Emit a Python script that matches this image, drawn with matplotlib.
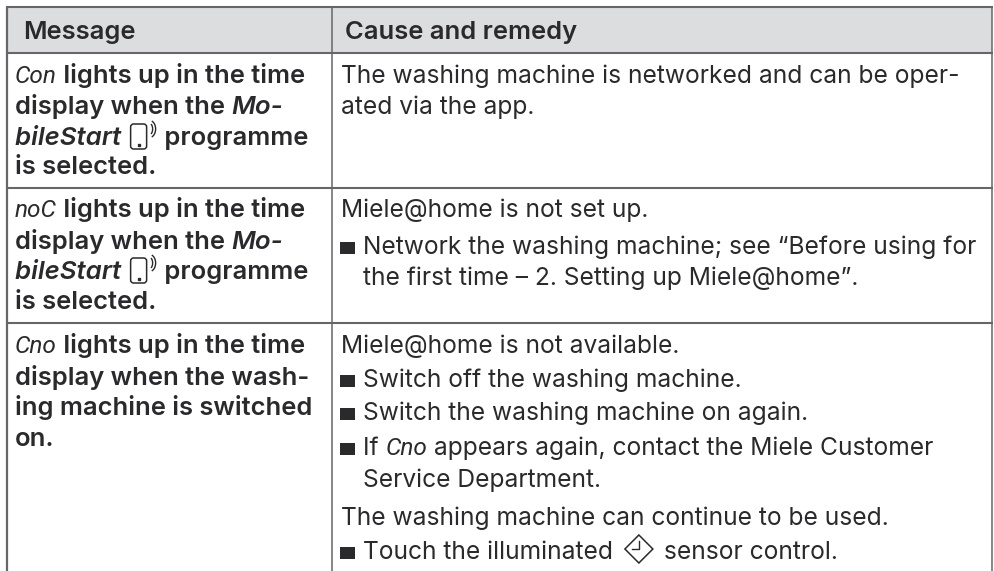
import matplotlib
matplotlib.use('Agg')
import matplotlib.pyplot as plt
from matplotlib.patches import Rectangle, FancyBboxPatch, Arc, Polygon

W, H = 995, 571
INK = '#2a2a2c'
LINE = '#666668'
HEAD = '#dcddde'

headers = ['Message', 'Cause and remedy']

# B bold, BI bold italic, N normal, S seven segment display, P phone icon, K key icon
left_lines = [
    [('Con', 'S'), (' lights up in the time', 'B')],
    [('display when the ', 'B'), ('Mo-', 'BI')],
    [('bileStart ', 'BI'), ('', 'P'), (' programme', 'B')],
    [('is selected.', 'B')],
    [('noC', 'S'), (' lights up in the time', 'B')],
    [('display when the ', 'B'), ('Mo-', 'BI')],
    [('bileStart ', 'BI'), ('', 'P'), (' programme', 'B')],
    [('is selected.', 'B')],
    [('Cno', 'S'), (' lights up in the time', 'B')],
    [('display when the wash-', 'B')],
    [('ing machine is switched', 'B')],
    [('on.', 'B')],
]
left_base = [83, 114, 145, 174, 217, 249, 279, 309, 353, 385, 415, 446]

right_lines = [
    (False, [('The washing machine is networked and can be oper-', 'N')]),
    (False, [('ated via the app.', 'N')]),
    (False, [('Miele@home is not set up.', 'N')]),
    (True, [('Network the washing machine; see “Before using for', 'N')]),
    (None, [('the first time – 2. Setting up Miele@home”.', 'N')]),
    (False, [('Miele@home is not available.', 'N')]),
    (True, [('Switch off the washing machine.', 'N')]),
    (True, [('Switch the washing machine on again.', 'N')]),
    (True, [('If ', 'N'), ('Cno', 'S'), (' appears again, contact the Miele Customer', 'N')]),
    (None, [('Service Department.', 'N')]),
    (False, [('The washing machine can continue to be used.', 'N')]),
    (True, [('Touch the illuminated ', 'N'), ('', 'K'), (' sensor control.', 'N')]),
]
right_base = [83, 114, 217, 254, 285, 353, 387, 420, 455, 487, 525, 559]

styles = {
    'B': dict(family='Inter', weight='semibold', size=18.4),
    'BI': dict(family='Inter', weight='semibold', style='italic', size=18.6),
    'N': dict(family='Inter', weight='normal', size=17.7),
    'S': dict(family='Roboto', weight='normal', style='italic', size=17.6),
}

fig = plt.figure(figsize=(W / 100, H / 100), dpi=100)
ax = fig.add_axes([0, 0, 1, 1])
ax.set_xlim(0, W)
ax.set_ylim(H, 0)
ax.axis('off')


def phone(x, y):
    # y is the baseline
    ax.add_patch(FancyBboxPatch((x + 3, y - 21), 16, 25, boxstyle='round,pad=0,rounding_size=3',
                                fc='none', ec=INK, lw=1.1))
    ax.plot([x + 11], [y], 's', ms=1.8, color=INK)
    ax.add_patch(Arc((x + 22, y - 16), 6, 11, theta1=-75, theta2=75, ec=INK, lw=1))
    ax.add_patch(Arc((x + 22, y - 16), 12, 17, theta1=-75, theta2=75, ec=INK, lw=1))
    return 30


def key(x, y):
    cx, cy = x + 19, y - 10
    ax.add_patch(Polygon([(cx - 14, cy), (cx, cy - 14), (cx + 14, cy), (cx, cy + 14)],
                         closed=True, fc='none', ec=INK, lw=1.1))
    ax.plot([cx, cx, cx - 7], [cy - 8, cy, cy], color=INK, lw=1)
    return 37


def draw_runs(x, y, runs):
    r = fig.canvas.get_renderer()
    for s, kind in runs:
        if kind == 'P':
            x += phone(x, y)
        elif kind == 'K':
            x += key(x, y)
        else:
            ax.text(x, y, s, color=INK, va='baseline', ha='left', **styles[kind])
            # trailing spaces get dropped from the extent, measure with a stand-in
            m = ax.text(0, 0, s + '|', alpha=0, **styles[kind])
            b = ax.text(0, 0, '|', alpha=0, **styles[kind])
            x += m.get_window_extent(r).width - b.get_window_extent(r).width
            m.remove()
            b.remove()
    return x


# table background and rules
ax.add_patch(Rectangle((6.5, 7), 985.5, 45.5, fc=HEAD, ec='none'))
for y in [7, 52.5, 188, 322.5]:
    ax.plot([6, 992.5], [y, y], color=LINE, lw=1.5, solid_capstyle='butt')
ax.plot([6.5, 6.5], [6.5, H], color=LINE, lw=1.6, solid_capstyle='butt')
ax.plot([331.5, 331.5], [6.5, H], color=LINE, lw=1.1, solid_capstyle='butt')
ax.plot([992, 992], [6.5, H], color=LINE, lw=1.1, solid_capstyle='butt')

ax.text(23, 39, headers[0], color=INK, va='baseline', **styles['B'])
ax.text(345, 39, headers[1], color=INK, va='baseline', **styles['B'])

for runs, y in zip(left_lines, left_base):
    draw_runs(15, y, runs)

for (bullet, runs), y in zip(right_lines, right_base):
    if bullet is True:
        ax.add_patch(Rectangle((340, y - 12.5), 14.5, 12.5, fc=INK, ec='none'))
    x = 341 if bullet is False else 363
    draw_runs(x, y, runs)

fig.savefig('out.png', dpi=100)
